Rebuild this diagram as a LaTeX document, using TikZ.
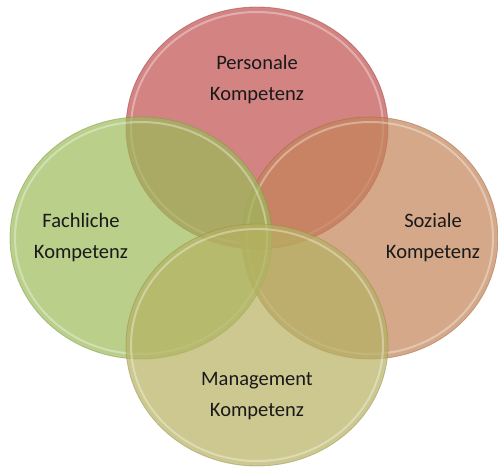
\documentclass[tikz,border=0pt]{standalone}
\usepackage{fontspec}
\setmainfont{Carlito}
\definecolor{cred}{HTML}{C0504D}
\definecolor{cgreen}{HTML}{9BBB59}
\definecolor{corange}{HTML}{C28356}
\definecolor{cyellow}{HTML}{B6B161}
\tikzset{
  venn/.style={fill=#1, fill opacity=0.7, draw=#1!80!black, draw opacity=0.5, line width=0.8pt},
  bevel/.style={draw=white, draw opacity=0.35, line width=2pt},
  lbl/.style={align=center, font=\fontsize{20.5}{31}\selectfont, text=black!90}
}
\begin{document}
\begin{tikzpicture}[x=1pt,y=-1pt]
\useasboundingbox (0,0) rectangle (498,468);
% circles
\path[venn=cred] (257,128) ellipse [x radius=131, y radius=121];
\path[bevel] (257,128) ellipse [x radius=126, y radius=116];
\path[venn=corange] (370,238) ellipse [x radius=128, y radius=121];
\path[bevel] (370,238) ellipse [x radius=123, y radius=116];
\path[venn=cgreen] (141,238) ellipse [x radius=131, y radius=121];
\path[bevel] (141,238) ellipse [x radius=126, y radius=116];
\path[venn=cyellow] (257,345) ellipse [x radius=131, y radius=121];
\path[bevel] (257,345) ellipse [x radius=126, y radius=116];
% labels
\node[lbl] (pers) at (257,80) {Personale\\Kompetenz};
\node[lbl] (fach) at (81,238) {Fachliche\\Kompetenz};
\node[lbl] (soz) at (433,238) {Soziale\\Kompetenz};
\node[lbl] (man) at (257,396) {Management\\Kompetenz};
\end{tikzpicture}
\end{document}
